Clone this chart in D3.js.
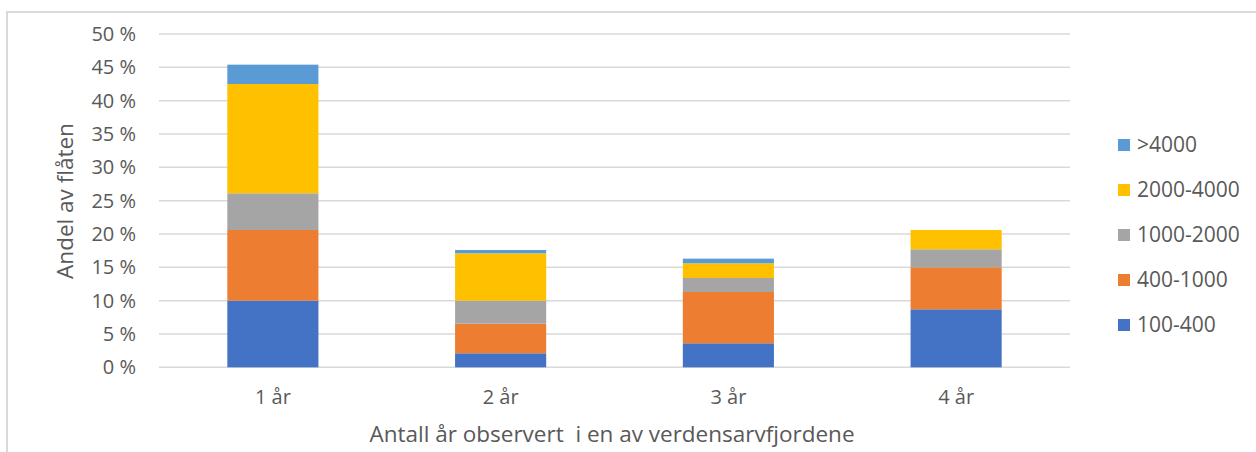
<!DOCTYPE html>
<html>
<head>
<meta charset="utf-8">
<script src="https://cdn.jsdelivr.net/npm/d3@7"></script>
<style>
  body { margin: 0; background: #fff; }
  text { font-family: "Open Sans", sans-serif; fill: #595959; }
</style>
</head>
<body>
<div id="chart"></div>
<script>
// categories on the x axis
var categories = ["1 år", "2 år", "3 år", "4 år"];
// series, bottom to top in the stack
var series_names = ["100-400", "400-1000", "1000-2000", "2000-4000", ">4000"];
var series_colors = ["#4472c4", "#ed7d31", "#a5a5a5", "#ffc000", "#5b9bd5"];
// share of fleet in %, one array per series (same order as categories)
var s_100_400 = [10.0, 2.1, 3.6, 8.7];
var s_400_1000 = [10.6, 4.45, 7.7, 6.3];
var s_1000_2000 = [5.5, 3.45, 2.1, 2.7];
var s_2000_4000 = [16.4, 7.1, 2.2, 2.9];
var s_4000 = [2.9, 0.5, 0.7, 0.0];
var y_ticks = [0, 5, 10, 15, 20, 25, 30, 35, 40, 45, 50];

var y_title = "Andel av flåten";
var x_title = "Antall år observert  i en av verdensarvfjordene";

var width = 1256, height = 452;
var margin = {top: 34, right: 186, bottom: 85, left: 159};

var table = categories.map(function(c, i) {
    return {
        cat: c,
        "100-400": s_100_400[i],
        "400-1000": s_400_1000[i],
        "1000-2000": s_1000_2000[i],
        "2000-4000": s_2000_4000[i],
        ">4000": s_4000[i]
    };
});

var svg = d3.select("#chart")
    .append("svg")
    .attr("width", width)
    .attr("height", height);

// chart frame (only top and left edges visible in the picture)
svg.append("rect")
    .attr("x", 7)
    .attr("y", 12)
    .attr("width", width + 20)
    .attr("height", height + 20)
    .attr("fill", "none")
    .attr("stroke", "#d9d9d9")
    .attr("stroke-width", 2);

var x = d3.scaleBand()
    .domain(categories)
    .range([margin.left, width - margin.right])
    .paddingInner(0.6)
    .paddingOuter(0.3);

var y = d3.scaleLinear()
    .domain([0, 50])
    .range([height - margin.bottom + 0.3, margin.top]);

// gridlines
svg.append("g")
    .selectAll("line")
    .data(y_ticks)
    .enter()
    .append("line")
    .attr("x1", margin.left)
    .attr("x2", width - margin.right)
    .attr("y1", function(d) { return y(d); })
    .attr("y2", function(d) { return y(d); })
    .attr("stroke", "#d9d9d9")
    .attr("stroke-width", 1.5);

// y tick labels
svg.append("g")
    .selectAll("text")
    .data(y_ticks)
    .enter()
    .append("text")
    .attr("x", 136)
    .attr("y", function(d) { return y(d); })
    .attr("dy", "0.35em")
    .attr("text-anchor", "end")
    .style("font-size", "20px")
    .text(function(d) { return d + " %"; });

var stack = d3.stack().keys(series_names);
var layers = stack(table);

svg.append("g")
    .selectAll("g")
    .data(layers)
    .enter()
    .append("g")
    .attr("fill", function(d, i) { return series_colors[i]; })
    .selectAll("rect")
    .data(function(d) { return d; })
    .enter()
    .append("rect")
    .attr("x", function(d) { return x(d.data.cat); })
    .attr("width", x.bandwidth())
    .attr("y", function(d) { return y(d[1]); })
    .attr("height", function(d) { return y(d[0]) - y(d[1]); });

// x tick labels
svg.append("g")
    .selectAll("text")
    .data(categories)
    .enter()
    .append("text")
    .attr("x", function(d) { return x(d) + x.bandwidth() / 2; })
    .attr("y", 404)
    .attr("text-anchor", "middle")
    .style("font-size", "20px")
    .text(function(d) { return d; });

// axis titles
svg.append("text")
    .attr("x", 612)
    .attr("y", 442)
    .attr("text-anchor", "middle")
    .style("font-size", "22.5px")
    .style("white-space", "pre")
    .text(x_title);

svg.append("text")
    .attr("transform", "translate(65," + 201 + ") rotate(-90)")
    .attr("dy", "0.35em")
    .attr("text-anchor", "middle")
    .style("font-size", "22.5px")
    .text(y_title);

// legend, top entry is the last series
var legend_rows = series_names.slice().reverse();
var legend = svg.append("g")
    .selectAll("g")
    .data(legend_rows)
    .enter()
    .append("g")
    .attr("transform", function(d, i) { return "translate(1118," + (145 + i * 45) + ")"; });

legend.append("rect")
    .attr("x", 0)
    .attr("y", -6)
    .attr("width", 12)
    .attr("height", 12)
    .attr("fill", function(d) { return series_colors[series_names.indexOf(d)]; });

legend.append("text")
    .attr("x", 19)
    .attr("y", 0)
    .attr("dy", "0.35em")
    .style("font-size", "21px")
    .text(function(d) { return d; });
</script>
</body>
</html>
